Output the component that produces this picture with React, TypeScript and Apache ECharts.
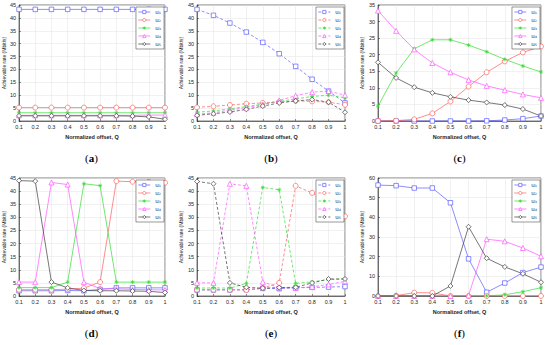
import React, { useEffect, useRef } from 'react';
import * as echarts from 'echarts';

// Normalized offset Q
const xLabels = ['0.1', '0.2', '0.3', '0.4', '0.5', '0.6', '0.7', '0.8', '0.9', '1'];
const userNames = ['u\u2081', 'u\u2082', 'u\u2083', 'u\u2084', 'u\u2085'];
const panelLabels = ['a', 'b', 'c', 'd', 'e', 'f'];
const yMax = [45, 45, 35, 45, 45, 60];
const yStep = [5, 5, 5, 5, 5, 10];

// (a)
const aU1 = [43.3, 43.3, 43.3, 43.3, 43.3, 43.3, 43.3, 43.3, 43.3, 43.3];
const aU2 = [5.2, 5.2, 5.2, 5.2, 5.2, 5.2, 5.2, 5.2, 5.2, 5.2];
const aU3 = [3.2, 3.2, 3.2, 3.2, 3.2, 3.2, 3.2, 3.2, 3.2, 3.2];
const aU4 = [2.2, 2.2, 2.2, 2.2, 2.2, 2.2, 2.2, 2.2, 2.3, 2.3];
const aU5 = [2.0, 2.0, 2.0, 2.0, 2.0, 2.0, 2.0, 1.9, 1.6, 0.7];
// (b)
const bU1 = [43.3, 41.0, 38.0, 34.5, 30.5, 26.1, 21.2, 16.2, 11.6, 7.0];
const bU2 = [5.3, 5.7, 6.2, 6.7, 7.0, 7.4, 7.8, 7.6, 7.3, 6.3];
const bU3 = [3.4, 3.9, 4.7, 5.6, 6.6, 7.6, 8.6, 9.5, 10.0, 9.0];
const bU4 = [2.6, 3.2, 4.2, 5.2, 6.3, 8.0, 9.8, 11.2, 11.6, 10.0];
const bU5 = [2.2, 2.8, 3.5, 4.5, 5.8, 7.0, 7.8, 8.3, 7.3, 3.4];
// (c)
const cU1 = [0, 0, 0, 0, 0, 0, 0.05, 0.3, 0.7, 1.5];
const cU2 = [0, 0.1, 0.5, 2.3, 5.9, 10.4, 14.7, 18.0, 20.7, 22.5];
const cU3 = [4.5, 14.5, 21.8, 24.5, 24.5, 22.9, 20.9, 18.6, 16.6, 14.8];
const cU4 = [33.3, 27.2, 21.6, 17.5, 14.7, 12.4, 10.6, 9.3, 8.0, 7.0];
const cU5 = [17.7, 13.0, 10.2, 8.5, 7.3, 6.3, 5.6, 4.8, 3.6, 1.5];
// (d)
const dU1 = [2.0, 2.0, 2.0, 2.1, 2.0, 2.5, 3.1, 3.1, 3.1, 3.1];
const dU2 = [2.4, 2.4, 2.4, 2.6, 3.0, 5.3, 43.8, 43.6, 43.6, 43.2];
const dU3 = [3.2, 3.2, 3.2, 5.3, 42.8, 42.1, 5.3, 5.3, 5.3, 5.3];
const dU4 = [5.3, 5.3, 43.3, 42.5, 5.3, 2.8, 2.7, 2.5, 2.4, 2.3];
const dU5 = [44.0, 43.8, 5.3, 3.1, 2.1, 2.0, 2.0, 1.9, 1.8, 1.3];
// (e)
const eU1 = [2.3, 2.3, 2.3, 2.4, 2.9, 2.8, 3.1, 3.3, 3.4, 3.6];
const eU2 = [2.4, 2.4, 2.4, 2.3, 3.0, 5.0, 42.0, 39.3, 35.5, 30.4];
const eU3 = [3.0, 3.1, 3.0, 4.8, 41.4, 40.5, 4.8, 5.4, 6.2, 6.5];
const eU4 = [5.0, 5.0, 42.8, 42.0, 5.4, 3.2, 3.1, 3.5, 4.4, 5.6];
const eU5 = [43.7, 42.8, 5.0, 3.3, 3.0, 3.2, 3.3, 5.0, 6.5, 6.5];
// (f)
const fU1 = [56.4, 56.1, 54.9, 54.9, 47.4, 18.9, 1.9, 6.6, 11.9, 14.7];
const fU2 = [0, 0.2, 1.7, 1.6, 0, 0, 0, 0, 0, 0];
const fU3 = [0, 0, 0, 0, 0, 0, 0.1, 0.6, 2.2, 4.2];
const fU4 = [0, 0, 0, 0, 0, 0.3, 28.9, 27.8, 24.4, 20.2];
const fU5 = [0, 0, 0, 0, 5.1, 35.2, 19.2, 14.8, 11.3, 7.0];

const panelData = [
  [aU1, aU2, aU3, aU4, aU5],
  [bU1, bU2, bU3, bU4, bU5],
  [cU1, cU2, cU3, cU4, cU5],
  [dU1, dU2, dU3, dU4, dU5],
  [eU1, eU2, eU3, eU4, eU5],
  [fU1, fU2, fU3, fU4, fU5],
];

// layout (pixels)
const layout = [
  { left: 18, top: 5, width: 147, height: 116, dashed: false },
  { left: 197, top: 5, width: 148, height: 116, dashed: true },
  { left: 378, top: 5, width: 163, height: 116, dashed: false },
  { left: 18, top: 178, width: 147, height: 118, dashed: false },
  { left: 197, top: 178, width: 148, height: 118, dashed: true },
  { left: 378, top: 178, width: 163, height: 118, dashed: false },
];

const colors = ['#5c5cff', '#ff5c5c', '#33dd33', '#ff55ff', '#3c3c3c'];
const asterisk =
  'path://M5,0L5,10M0,5L10,5M1.5,1.5L8.5,8.5M8.5,1.5L1.5,8.5';
const symbols = ['rect', 'circle', asterisk, 'triangle', 'diamond'];
const symSizes = [4.5, 5, 4, 5, 5];
const symFill = ['#fff', '#fff', '#33dd33', '#fff', '#fff'];

const FONT = 'Liberation Sans, Arial, sans-serif';

export default function App() {
  const ref = useRef<HTMLDivElement>(null);
  useEffect(() => {
    if (!ref.current) return;
    const chart = echarts.init(ref.current, undefined, { renderer: 'svg' });
    const grid: any[] = [];
    const xAxis: any[] = [];
    const yAxis: any[] = [];
    const series: any[] = [];
    const legend: any[] = [];
    const graphic: any[] = [];
    layout.forEach((g, i) => {
      grid.push({
        left: g.left,
        top: g.top,
        width: g.width,
        height: g.height,
        show: true,
        borderColor: '#262626',
        borderWidth: 0.6,
        backgroundColor: '#fff',
      });
      xAxis.push({
        type: 'category',
        gridIndex: i,
        data: xLabels,
        boundaryGap: false,
        name: 'Normalized offset, Q',
        nameLocation: 'middle',
        nameGap: 13,
        nameTextStyle: { fontSize: 5.5, fontFamily: FONT, color: '#222', fontWeight: 'bold' },
        axisLine: { lineStyle: { color: '#262626', width: 0.6 } },
        axisTick: { inside: true, length: 2, alignWithLabel: true, lineStyle: { color: '#262626', width: 0.5 } },
        axisLabel: { interval: 0, fontSize: 5.5, margin: 3, color: '#262626', fontFamily: FONT },
        splitLine: { show: true, lineStyle: { color: '#e3e3e3', width: 0.5 } },
      });
      yAxis.push({
        type: 'value',
        gridIndex: i,
        min: 0,
        max: yMax[i],
        interval: yStep[i],
        name: 'Achievable rate (Mbit/s)',
        nameLocation: 'middle',
        nameGap: 10,
        nameTextStyle: { fontSize: 5, fontFamily: FONT, color: '#222' },
        axisLine: { show: true, lineStyle: { color: '#262626', width: 0.6 } },
        axisTick: { show: true, inside: true, length: 2, lineStyle: { color: '#262626', width: 0.5 } },
        axisLabel: { fontSize: 5.5, margin: 3, color: '#262626', fontFamily: FONT },
        splitLine: { show: true, lineStyle: { color: '#e3e3e3', width: 0.5 } },
      });
      const names: string[] = [];
      panelData[i].forEach((vals, k) => {
        const name = panelLabels[i] + k;
        names.push(name);
        series.push({
          type: 'line',
          name,
          xAxisIndex: i,
          yAxisIndex: i,
          data: vals,
          symbol: symbols[k],
          symbolSize: symSizes[k],
          showAllSymbol: true,
          lineStyle: { color: colors[k], width: 0.7, type: g.dashed ? [3, 2] : 'solid' },
          itemStyle: { color: symFill[k], borderColor: colors[k], borderWidth: 0.7 },
        });
      });
      legend.push({
        data: names.map((n, k) => ({
          name: n,
          itemStyle: { color: symFill[k], borderColor: colors[k], borderWidth: 0.7 },
          lineStyle: { color: colors[k], width: 0.7, type: g.dashed ? [3, 2] : 'solid' },
        })),
        formatter: (n: string) => userNames[+n.slice(1)],
        orient: 'vertical',
        right: 550 - (g.left + g.width) + 1,
        top: g.top + 2,
        itemWidth: 12,
        itemHeight: 4,
        itemGap: 2,
        padding: [2, 3, 2, 2],
        backgroundColor: '#fff',
        borderColor: '#333',
        borderWidth: 0.5,
        selectedMode: false,
        textStyle: { fontSize: 5.5, color: '#222', fontFamily: 'DejaVu Sans' },
      });
      graphic.push({
        type: 'text',
        x: g.left + g.width / 2,
        y: g.top + g.height + 37,
        style: {
          text: '{p|(}{l|' + panelLabels[i] + '}{p|)}',
          textAlign: 'center',
          textVerticalAlign: 'middle',
          rich: {
            p: { fontSize: 11, fontFamily: 'Liberation Serif', color: '#111' },
            l: { fontSize: 11, fontFamily: 'Liberation Serif', fontWeight: 'bold', color: '#111' },
          },
        },
      });
    });
    chart.setOption({
      animation: false,
      backgroundColor: '#fff',
      grid,
      xAxis,
      yAxis,
      series,
      legend,
      graphic,
    });
    return () => chart.dispose();
  }, []);
  return (
    <div style={{ position: 'fixed', left: 0, top: 0, width: 550, height: 345, background: '#fff' }}>
      <div ref={ref} style={{ width: 550, height: 345 }} />
    </div>
  );
}
